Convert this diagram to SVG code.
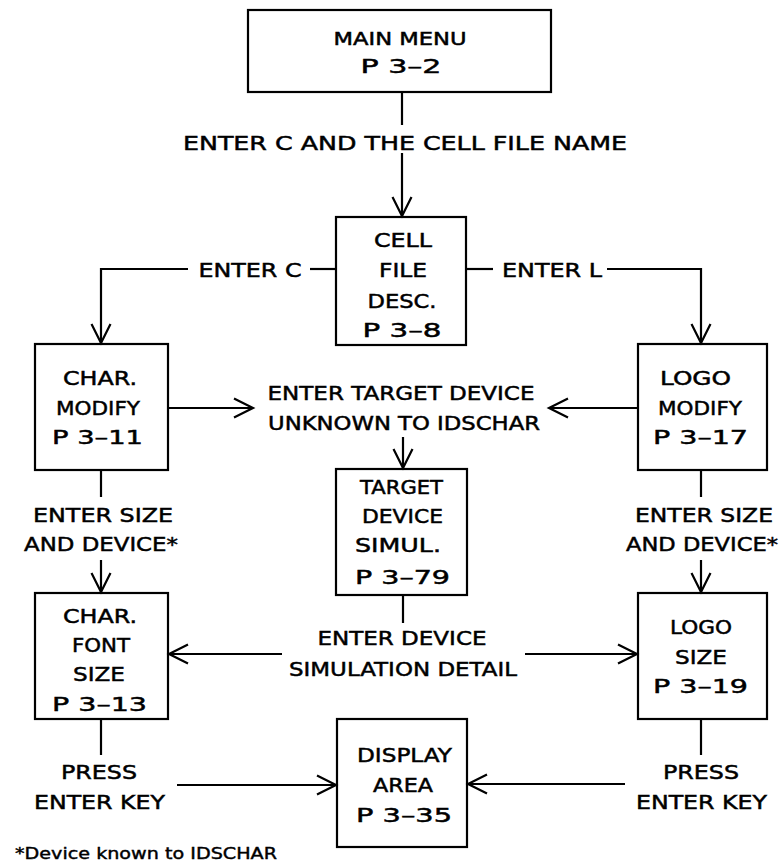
<svg xmlns="http://www.w3.org/2000/svg" width="781" height="865" viewBox="0 0 781 865">
<style>
.box{fill:none;stroke:#000;stroke-width:2.2}
.ln{fill:none;stroke:#000;stroke-width:2.2}
.ar{fill:none;stroke:#000;stroke-width:2.2;marker-end:url(#ah)}
text{font-family:"DejaVu Sans","Liberation Sans",Arial,sans-serif;font-size:20px;fill:#000;stroke:#000;stroke-width:0.5;text-anchor:middle}
.mm{font-size:18px}
.fn{font-size:15px;text-anchor:start;stroke-width:0.4}
</style>
<defs>
<marker id="ah" markerUnits="userSpaceOnUse" markerWidth="30" markerHeight="30" viewBox="-25 -15 30 30" refX="0" refY="0" orient="auto">
<path d="M-19,-9.5 L0,0 L-19,9.5" fill="none" stroke="#000" stroke-width="2.2"/>
</marker>
</defs>
<rect width="781" height="865" fill="#fff"/>
<g id="connectors">
<path class="ln" d="M402,92 V125"/>
<path class="ar" d="M402,153 V216"/>
<path class="ln" d="M336,269 H310"/>
<path class="ar" d="M188,269 H101 V343"/>
<path class="ln" d="M466,269 H493"/>
<path class="ar" d="M607,269 H701 V343"/>
<path class="ar" d="M168,408 H253"/>
<path class="ar" d="M638,408 H549"/>
<path class="ar" d="M403,437 V468"/>
<path class="ln" d="M101,470 V497"/>
<path class="ar" d="M101,560 V592"/>
<path class="ln" d="M701,470 V497"/>
<path class="ar" d="M701,560 V592"/>
<path class="ln" d="M403,595 V623"/>
<path class="ar" d="M282,654 H169"/>
<path class="ar" d="M525,654 H637"/>
<path class="ln" d="M101,719 V755"/>
<path class="ar" d="M177,785 H336"/>
<path class="ln" d="M701,719 V755"/>
<path class="ar" d="M625,784 H468"/>
</g>
<g id="labels">
<text x="405" y="150" textLength="444" lengthAdjust="spacingAndGlyphs">ENTER C AND THE CELL FILE NAME</text>
<text x="250" y="277" textLength="103" lengthAdjust="spacingAndGlyphs">ENTER C</text>
<text x="552" y="277" textLength="100" lengthAdjust="spacingAndGlyphs">ENTER L</text>
<text x="401" y="400" textLength="267" lengthAdjust="spacingAndGlyphs">ENTER TARGET DEVICE</text>
<text x="404" y="430" textLength="272" lengthAdjust="spacingAndGlyphs">UNKNOWN TO IDSCHAR</text>
<text x="103" y="522" textLength="140" lengthAdjust="spacingAndGlyphs">ENTER SIZE</text>
<text x="101" y="551" textLength="154" lengthAdjust="spacingAndGlyphs">AND DEVICE*</text>
<text x="704" y="522" textLength="138" lengthAdjust="spacingAndGlyphs">ENTER SIZE</text>
<text x="702" y="551" textLength="152" lengthAdjust="spacingAndGlyphs">AND DEVICE*</text>
<text x="402" y="645" textLength="169" lengthAdjust="spacingAndGlyphs">ENTER DEVICE</text>
<text x="403" y="676" textLength="228" lengthAdjust="spacingAndGlyphs">SIMULATION DETAIL</text>
<text x="99" y="779" textLength="76" lengthAdjust="spacingAndGlyphs">PRESS</text>
<text x="99.5" y="809" textLength="131" lengthAdjust="spacingAndGlyphs">ENTER KEY</text>
<text x="701" y="779" textLength="76" lengthAdjust="spacingAndGlyphs">PRESS</text>
<text x="701.5" y="809" textLength="131" lengthAdjust="spacingAndGlyphs">ENTER KEY</text>
<text class="fn" x="15" y="859" textLength="262" lengthAdjust="spacingAndGlyphs">*Device known to IDSCHAR</text>
</g>
<g id="main-menu">
<rect class="box" x="248" y="10" width="303" height="82"/>
<text class="mm" x="400" y="45" textLength="133" lengthAdjust="spacingAndGlyphs">MAIN MENU</text>
<text x="401" y="73" textLength="81" lengthAdjust="spacingAndGlyphs">P 3–2</text>
</g>
<g id="cell-file-desc">
<rect class="box" x="336" y="217" width="130" height="128"/>
<text x="403" y="247" textLength="58" lengthAdjust="spacingAndGlyphs">CELL</text>
<text x="403" y="277" textLength="48" lengthAdjust="spacingAndGlyphs">FILE</text>
<text x="402" y="308" textLength="69" lengthAdjust="spacingAndGlyphs">DESC.</text>
<text x="402" y="337" textLength="79" lengthAdjust="spacingAndGlyphs">P 3–8</text>
</g>
<g id="char-modify">
<rect class="box" x="35" y="344" width="133" height="126"/>
<text x="100" y="385" textLength="74" lengthAdjust="spacingAndGlyphs">CHAR.</text>
<text x="98" y="415" textLength="84" lengthAdjust="spacingAndGlyphs">MODIFY</text>
<text x="97.5" y="444" textLength="91" lengthAdjust="spacingAndGlyphs">P 3–11</text>
</g>
<g id="logo-modify">
<rect class="box" x="638" y="344" width="129" height="126"/>
<text x="695.5" y="385" textLength="71" lengthAdjust="spacingAndGlyphs">LOGO</text>
<text x="700" y="415" textLength="84" lengthAdjust="spacingAndGlyphs">MODIFY</text>
<text x="700.5" y="444" textLength="95" lengthAdjust="spacingAndGlyphs">P 3–17</text>
</g>
<g id="target-device-simul">
<rect class="box" x="336" y="469" width="131" height="126"/>
<text x="401.5" y="494" textLength="83" lengthAdjust="spacingAndGlyphs">TARGET</text>
<text x="402.5" y="523" textLength="81" lengthAdjust="spacingAndGlyphs">DEVICE</text>
<text x="398" y="552" textLength="86" lengthAdjust="spacingAndGlyphs">SIMUL.</text>
<text x="402.5" y="584" textLength="95" lengthAdjust="spacingAndGlyphs">P 3–79</text>
</g>
<g id="char-font-size">
<rect class="box" x="35" y="593" width="133" height="126"/>
<text x="100" y="623" textLength="74" lengthAdjust="spacingAndGlyphs">CHAR.</text>
<text x="101" y="652" textLength="58" lengthAdjust="spacingAndGlyphs">FONT</text>
<text x="99" y="681" textLength="52" lengthAdjust="spacingAndGlyphs">SIZE</text>
<text x="99.5" y="711" textLength="95" lengthAdjust="spacingAndGlyphs">P 3–13</text>
</g>
<g id="logo-size">
<rect class="box" x="638" y="593" width="129" height="126"/>
<text x="701" y="634" textLength="62" lengthAdjust="spacingAndGlyphs">LOGO</text>
<text x="701" y="664" textLength="52" lengthAdjust="spacingAndGlyphs">SIZE</text>
<text x="700.5" y="693" textLength="95" lengthAdjust="spacingAndGlyphs">P 3–19</text>
</g>
<g id="display-area">
<rect class="box" x="337" y="719" width="130" height="128"/>
<text x="404.5" y="762" textLength="95" lengthAdjust="spacingAndGlyphs">DISPLAY</text>
<text x="403" y="792" textLength="60" lengthAdjust="spacingAndGlyphs">AREA</text>
<text x="404" y="822" textLength="96" lengthAdjust="spacingAndGlyphs">P 3–35</text>
</g>
</svg>
